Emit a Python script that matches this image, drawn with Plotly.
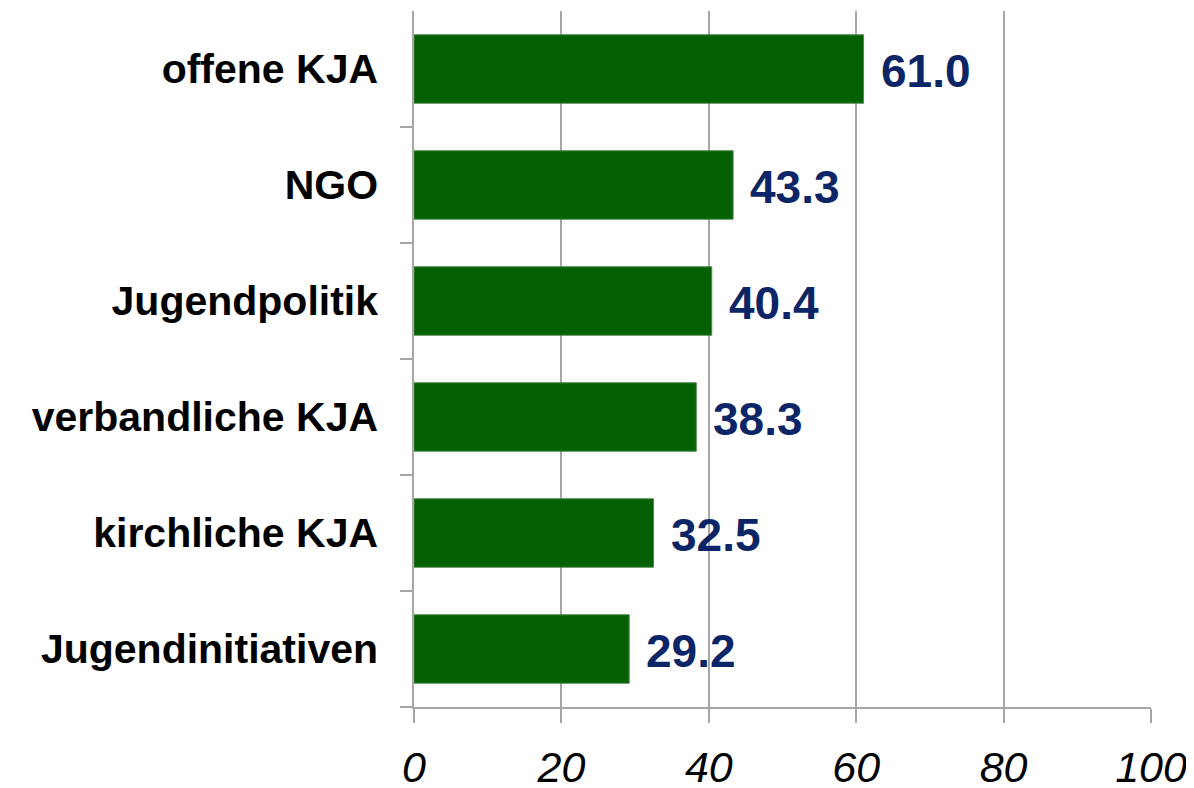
import plotly.graph_objects as go

categories = ["offene KJA", "NGO", "Jugendpolitik", "verbandliche KJA", "kirchliche KJA", "Jugendinitiativen"]
values = [61.0, 43.3, 40.4, 38.3, 32.5, 29.2]
x_ticks = [0, 20, 40, 60, 80, 100]

bar_color = "#036003"
label_color = "#0B2566"
grid_color = "#A6A6A6"

fig = go.Figure()
fig.add_trace(go.Bar(
    x=values, y=categories, orientation="h",
    marker=dict(color=bar_color, line=dict(color="#4C8A4C", width=1)),
    width=0.59,
))

for v, c in zip(values, categories):
    fig.add_annotation(
        x=v, y=c, text=f"<b>{v:.1f}</b>", showarrow=False,
        xanchor="left", yanchor="middle", xshift=15, yshift=-2,
        font=dict(family="Liberation Sans, Arial", size=46, color=label_color),
    )

fig.update_layout(
    width=1186, height=780,
    margin=dict(l=406, r=43, t=3, b=81),
    plot_bgcolor="white", paper_bgcolor="white",
    showlegend=False,
    font=dict(family="Liberation Sans, Arial"),
)
fig.update_xaxes(
    range=[0, 100], tickvals=x_ticks, ticktext=[f"<i>{t}</i>" for t in x_ticks],
    showgrid=True, gridcolor=grid_color, gridwidth=1.5,
    showline=True, linecolor=grid_color, linewidth=1.5,
    ticks="outside", ticklen=14, tickcolor=grid_color, tickwidth=1.5,
    tickfont=dict(size=43, color="black", family="Liberation Sans, Arial"),
    ticklabelstandoff=8, ticklabeloverflow="allow",
    zeroline=False, automargin=False,
)
fig.update_yaxes(
    categoryorder="array", categoryarray=categories[::-1],
    tickvals=categories, ticktext=[f"<b>{c}</b>" for c in categories],
    showgrid=False, showline=True, linecolor=grid_color, linewidth=1.5,
    ticks="outside", tickson="boundaries", ticklen=12, tickcolor=grid_color, tickwidth=1.5,
    tickfont=dict(size=41, color="black", family="Liberation Sans, Arial"),
    ticklabelstandoff=26, automargin=False,
)

fig.write_html("out.html")
